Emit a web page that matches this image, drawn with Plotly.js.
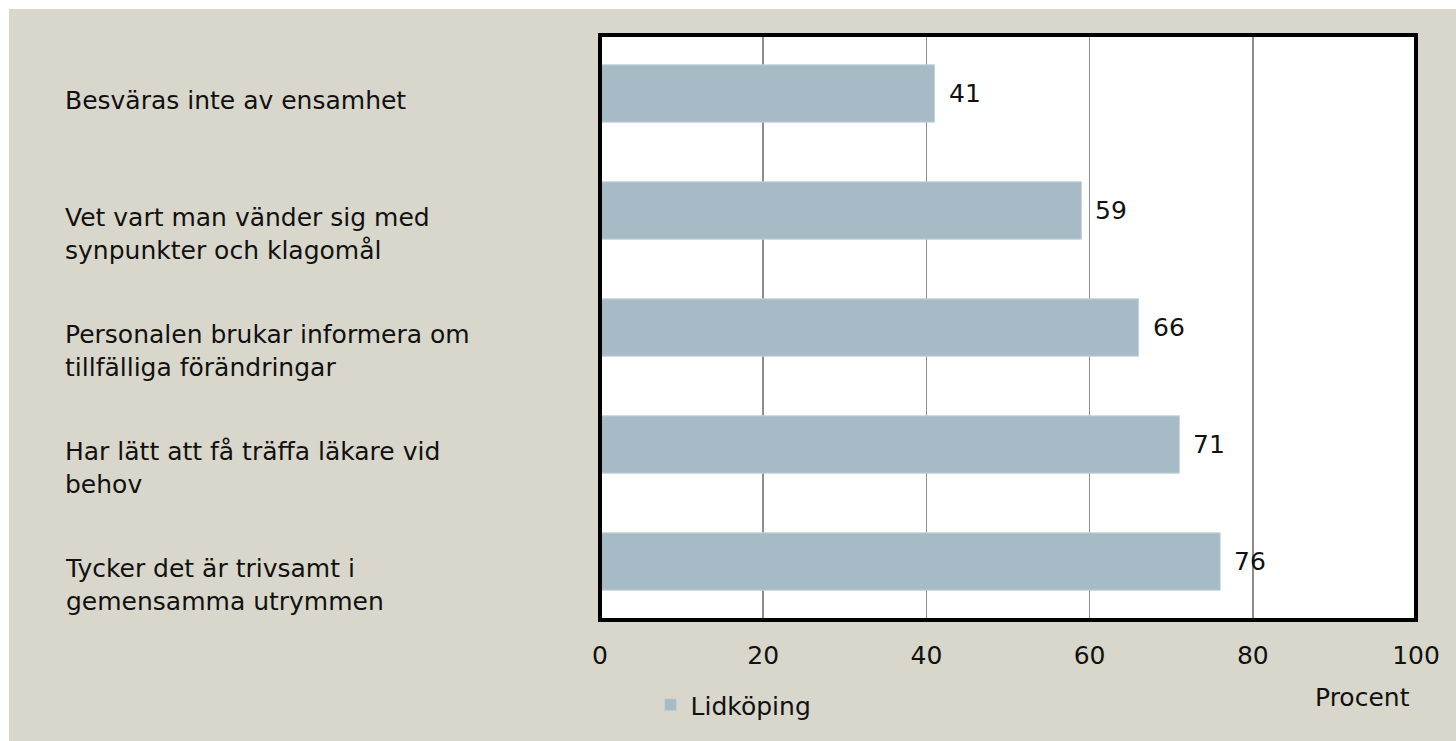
<!DOCTYPE html>
<html>
<head>
<meta charset="utf-8">
<script src="https://cdn.plot.ly/plotly-3.0.1.min.js"></script>
<style>
html,body{margin:0;padding:0;background:#ffffff;}
#chart{position:absolute;left:9px;top:9px;width:1447px;height:732px;}
</style>
</head>
<body>
<div id="chart"></div>
<script>
const categories = [
  "Besväras inte av ensamhet",
  "Vet vart man vänder sig med<br>synpunkter och klagomål",
  "Personalen brukar informera om<br>tillfälliga förändringar",
  "Har lätt att få träffa läkare vid<br>behov",
  "Tycker det är trivsamt i<br>gemensamma utrymmen"
];
const values = [41, 59, 66, 71, 76];
const seriesName = "Lidköping";
const tickVals = [0, 20, 40, 60, 80, 100];
const axisTitle = "Procent";

const FONT = "DejaVu Sans, sans-serif";
const FS = 25;

const trace = {
  type: "bar",
  orientation: "h",
  x: values,
  y: categories,
  name: seriesName,
  marker: {color: "#a7bbc6", line: {color: "#c3d1d8", width: 1}},
  hoverinfo: "x+y",
  showlegend: true
};

const annotations = [];
categories.forEach((c, i) => {
  annotations.push({
    xref: "paper", yref: "y", x: -0.658, y: c,
    text: c, showarrow: false, xanchor: "left", yanchor: "top", align: "left",
    yshift: 10, font: {family: FONT, size: FS, color: "#111"}
  });
  annotations.push({
    xref: "x", yref: "y", x: values[i], y: c,
    text: String(values[i]), showarrow: false, xanchor: "left", yanchor: "middle",
    xshift: 12, font: {family: FONT, size: FS, color: "#111"}
  });
});
annotations.push({
  xref: "paper", yref: "paper", x: 0.995, y: -0.132,
  text: axisTitle, showarrow: false, xanchor: "right", yanchor: "middle",
  font: {family: FONT, size: FS, color: "#111"}
});

const layout = {
  width: 1447, height: 732,
  paper_bgcolor: "#d9d7cb",
  plot_bgcolor: "#ffffff",
  margin: {l: 591, r: 40, t: 26, b: 121, autoexpand: false},
  bargap: 0.51,
  font: {family: FONT, size: FS, color: "#111"},
  xaxis: {
    range: [0, 100], tickvals: tickVals, ticktext: tickVals.map(String),
    showgrid: true, gridcolor: "#8f8f8f", gridwidth: 1.5,
    zeroline: false, showline: false, ticks: "", ticklabelstandoff: 18,
    tickfont: {family: FONT, size: FS, color: "#111"}, fixedrange: true
  },
  yaxis: {
    type: "category", autorange: "reversed", showticklabels: false,
    showgrid: false, zeroline: false, showline: false, ticks: "", fixedrange: true
  },
  shapes: [{
    type: "rect", xref: "paper", yref: "paper", x0: 0, x1: 1, y0: 0, y1: 1,
    line: {color: "#000", width: 4}, layer: "above"
  }],
  legend: {
    orientation: "h", x: 0.062, y: -0.106, xanchor: "left", yanchor: "top",
    bgcolor: "rgba(0,0,0,0)", font: {family: FONT, size: FS, color: "#111"},
    itemwidth: 30
  },
  annotations: annotations
};

Plotly.newPlot("chart", [trace], layout, {displayModeBar: false, staticPlot: true});
</script>
</body>
</html>
